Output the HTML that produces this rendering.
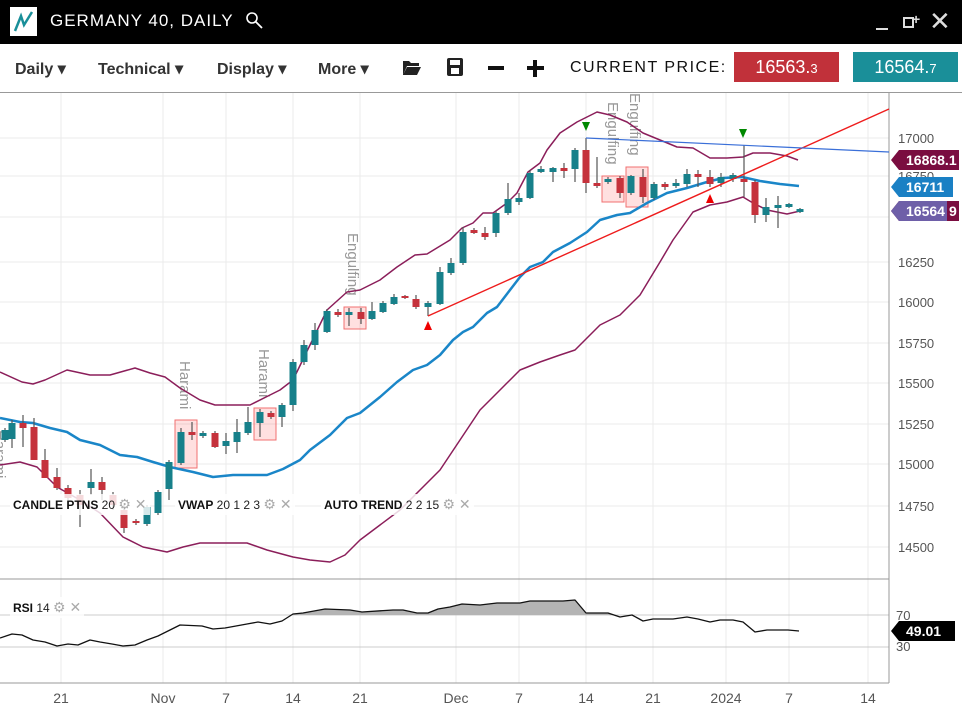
<!DOCTYPE html>
<html><head><meta charset="utf-8"><style>
body{margin:0;width:962px;height:711px;overflow:hidden;background:#fff;font-family:"Liberation Sans",sans-serif;}
#top{position:absolute;left:0;top:0;width:962px;height:44px;background:#000;}
#tb{position:absolute;left:0;top:44px;width:962px;height:48px;background:#fff;border-bottom:1px solid #999;}
.m{position:absolute;top:15px;font-size:16px;font-weight:bold;color:#333;}
.lbl{position:absolute;font-size:12px;color:#222;background:rgba(255,255,255,0.82);padding:2px 3px;white-space:nowrap}
.lbl b{color:#111}
.g{color:#aaa;font-size:14px}
</style></head><body>
<div id="top">
 <div style="position:absolute;left:10px;top:7px;width:27px;height:29px;background:#fff"></div>
 <svg style="position:absolute;left:10px;top:7px" width="27" height="29"><path d="M5 24 L11 9 L14 18 L22 5" stroke="#1a8f99" stroke-width="2.5" fill="none"/></svg>
 <div style="position:absolute;left:50px;top:11px;color:#fff;font-size:17px;letter-spacing:1px">GERMANY 40, DAILY</div>
 <svg style="position:absolute;left:245px;top:11px" width="20" height="20"><circle cx="7" cy="7" r="5" stroke="#fff" stroke-width="1.6" fill="none"/><line x1="11" y1="11" x2="17" y2="17" stroke="#fff" stroke-width="1.8"/></svg>
 <div style="position:absolute;left:876px;top:28px;width:12px;height:2px;background:#ddd"></div>
 <div style="position:absolute;left:903px;top:17px;width:11px;height:11px;border:2px solid #ddd;box-sizing:border-box"></div>
 <div style="position:absolute;left:912px;top:11px;color:#ddd;font-size:14px;font-weight:bold">+</div>
 <div style="position:absolute;left:929px;top:6px;color:#ddd;font-size:26px">✕</div>
</div>
<div id="tb">
 <div class="m" style="left:15px">Daily ▾</div>
 <div class="m" style="left:98px">Technical ▾</div>
 <div class="m" style="left:217px">Display ▾</div>
 <div class="m" style="left:318px">More ▾</div>
 <svg style="position:absolute;left:402px;top:14px" width="20" height="18"><path d="M1 3h6l2 2h8v3H5l-4 9z M5 9h14l-4 8H1z" fill="#222"/></svg>
 <svg style="position:absolute;left:446px;top:13px" width="18" height="20"><rect x="1" y="1" width="16" height="18" rx="2" fill="#222"/><rect x="4" y="3" width="10" height="5" fill="#fff"/><rect x="5" y="11" width="8" height="6" fill="#fff"/></svg>
 <div style="position:absolute;left:488px;top:22px;width:16px;height:4px;background:#111"></div>
 <div style="position:absolute;left:527px;top:22px;width:17px;height:4px;background:#111"></div>
 <div style="position:absolute;left:533px;top:16px;width:4px;height:17px;background:#111"></div>
 <div style="position:absolute;left:570px;top:15px;font-size:16px;color:#111;letter-spacing:1.5px">CURRENT PRICE:</div>
 <div style="position:absolute;left:734px;top:8px;width:105px;height:30px;background:#c1313a;color:#fff;font-size:18px;line-height:30px;text-align:center">16563.<span style="font-size:13px">3</span></div>
 <div style="position:absolute;left:853px;top:8px;width:105px;height:30px;background:#1a8f99;color:#fff;font-size:18px;line-height:30px;text-align:center">16564.<span style="font-size:13px">7</span></div>
</div>
<svg id="c" style="position:absolute;left:0;top:0" width="962" height="711" font-family="Liberation Sans, sans-serif"></svg>
<div class="lbl" style="left:10px;top:494px"><b>CANDLE PTNS</b> 20 <span class="g">⚙ ✕</span></div>
<div class="lbl" style="left:175px;top:494px"><b>VWAP</b> 20 1 2 3 <span class="g">⚙ ✕</span></div>
<div class="lbl" style="left:321px;top:494px"><b>AUTO TREND</b> 2 2 15 <span class="g">⚙ ✕</span></div>
<div class="lbl" style="left:10px;top:597px"><b>RSI</b> 14 <span class="g">⚙ ✕</span></div>
<script>
var s='';
function L(x1,y1,x2,y2,c,w){s+=`<line x1="${x1}" y1="${y1}" x2="${x2}" y2="${y2}" stroke="${c}" stroke-width="${w||1}"/>`;}
function T(x,y,t,c,sz,a){s+=`<text x="${x}" y="${y}" fill="${c}" font-size="${sz||13}" ${a||''}>${t}</text>`;}
// grid
var hy=[138,176,217,262,302,343,383,424,464,506,547];
hy.forEach(y=>L(0,y,889,y,'#ebebeb'));
var vx=[61,163,226,293,360,456,519,586,653,726,789,868];
vx.forEach(x=>{L(x,93,x,683,'#ebebeb');});
L(0,615,889,615,'#ccc');L(0,647,889,647,'#ccc');
L(0,579,889,579,'#999');L(0,683,889,683,'#999');L(889,93,889,683,'#999');
// pattern boxes
[[175,420,22,48],[254,408,22,32],[344,307,22,22],[602,176,22,26],[626,167,22,40]].forEach(b=>s+=`<rect x="${b[0]}" y="${b[1]}" width="${b[2]}" height="${b[3]}" fill="rgba(255,0,0,0.12)" stroke="#f07070" stroke-width="1"/>`);
[[180,361,'Harami'],[259,349,'Harami'],[348,233,'Engulfing'],[608,102,'Engulfing'],[630,93,'Engulfing'],[-5,430,'Harami']].forEach(t=>T(t[0],t[1],t[2],'#999',15,`transform="rotate(90 ${t[0]} ${t[1]})"`));
function P(pts,c,w){s+=`<polyline points="${pts}" fill="none" stroke="${c}" stroke-width="${w}" stroke-linejoin="round"/>`;}
// bands
P('0,372 22,382 33,384 45,380 67,370 90,375 110,375 135,368 150,373 165,377 180,388 200,400 215,405 250,405 270,395 280,390 293,380 327,310 347,292 360,290 380,280 397,267 415,255 427,254 450,240 462,228 473,223 483,213 493,213 507,203 517,193 528,172 540,163 547,150 560,133 577,122 597,112 610,115 627,122 643,133 660,140 677,147 693,148 710,158 727,158 743,157 753,153 770,153 787,156 798,160','#8b1e5a',1.5);
P('0,465 20,462 37,467 57,487 80,500 100,513 123,537 143,547 167,552 183,547 200,543 227,543 247,543 267,550 293,557 310,560 330,562 345,555 360,540 380,525 400,510 420,490 440,470 460,440 480,410 500,390 520,370 540,362 560,355 575,350 590,335 600,325 620,315 640,295 660,262 673,240 693,212 710,205 727,202 743,197 753,203 767,210 787,214 800,211','#8b1e5a',1.5);
P('0,418 20,422 33,423 50,428 67,432 80,440 100,445 120,455 137,457 153,462 170,467 193,472 213,477 233,475 267,475 283,469 300,460 310,450 330,435 347,418 360,413 380,397 397,382 413,370 427,365 440,355 453,340 463,332 473,327 487,313 497,307 510,290 520,277 530,267 543,262 553,252 570,243 587,232 600,220 617,215 630,213 647,203 667,193 687,188 707,182 723,178 742,177 760,181 780,184 799,186','#1a86c8',2.5);
// candles [x,bodyTop,bodyBot,wickTop,wickBot,red?]
var C=[[5,430,440,428,442,0],[12,423,439,420,448,0],[23,423,428,415,447,1],[34,427,460,418,460,1],[45,460,478,449,478,1],[57,477,488,468,490,1],[68,488,498,485,500,1],[80,495,505,490,527,1],[91,482,488,469,495,0],[102,482,490,477,500,1],[113,495,505,492,510,1],[124,510,528,505,533,1],[136,521,523,519,525,1],[147,507,524,505,526,0],[158,492,513,490,515,0],[169,462,489,460,500,0],[181,432,463,428,465,0],[192,432,435,422,440,1],[203,433,436,431,438,0],[215,433,447,431,448,1],[226,441,446,433,454,0],[237,432,442,419,453,0],[248,422,433,407,435,0],[260,412,423,409,437,0],[271,413,417,411,419,1],[282,405,417,403,427,0],[293,362,405,359,411,0],[304,345,362,340,365,0],[315,330,345,323,350,0],[327,311,332,309,333,0],[338,312,315,309,317,1],[349,312,315,308,326,0],[361,312,319,308,324,1],[372,311,319,302,320,0],[383,303,312,301,313,0],[394,297,304,294,305,0],[405,296,298,295,299,1],[416,299,307,295,309,1],[428,303,307,301,316,0],[440,272,304,267,305,0],[451,263,273,258,275,0],[463,232,263,227,265,0],[474,230,233,228,234,1],[485,233,237,227,240,1],[496,213,233,211,237,0],[508,199,213,183,215,0],[519,198,202,193,205,0],[530,173,198,170,199,0],[541,169,172,166,173,0],[553,168,172,167,182,0],[564,168,171,163,178,1],[575,150,169,148,182,0],[586,150,183,138,193,1],[597,183,186,157,188,1],[608,179,182,177,184,0],[620,178,193,176,198,1],[631,176,193,175,195,0],[643,177,197,169,203,1],[654,184,198,182,200,0],[665,184,187,182,190,1],[676,183,186,179,188,0],[687,174,184,169,187,0],[698,174,177,170,187,1],[710,177,184,170,187,1],[721,177,183,173,187,0],[733,175,179,173,182,0],[744,179,182,145,197,1],[755,182,215,180,223,1],[766,207,215,198,222,0],[778,205,208,196,228,0],[789,204,207,203,208,0],[800,209,212,208,213,0]];
C.forEach(c=>{var col=c[5]?'#c5323c':'#17808a';L(c[0],c[3],c[0],c[4],'#555',1.2);s+=`<rect x="${c[0]-3.5}" y="${c[1]}" width="7" height="${Math.max(2,c[2]-c[1])}" fill="${col}"/>`;});
// trend lines
L(428,316,889,109,'#ee1c1c',1.4);L(586,138,889,152,'#3a6fd8',1.2);
s+='<polygon points="424,330 432,330 428,321" fill="#e00"/><polygon points="706,203 714,203 710,194" fill="#e00"/><polygon points="582,122 590,122 586,131" fill="#080"/><polygon points="739,129 747,129 743,138" fill="#080"/>';
// RSI
var r='0,638 12,634 22,635 33,640 45,642 57,646 68,644 78,645 90,640 100,642 112,644 123,646 135,645 147,640 158,636 170,630 180,625 202,626 213,629 225,628 247,624 258,622 270,624 282,621 293,614 303,613 325,609 350,610 362,612 393,610 403,610 417,613 428,613 438,609 450,607 462,604 480,605 497,603 507,603 520,603 530,601 547,601 563,601 575,600 586,613 597,613 608,613 620,617 632,615 643,621 653,619 673,619 687,617 698,619 710,622 720,620 733,620 743,622 755,632 767,630 788,630 799,631';
s+=`<clipPath id="k"><rect x="0" y="579" width="889" height="36"/></clipPath><polygon clip-path="url(#k)" points="0,615 ${r} 799,615" fill="#b4b4b4"/>`;
P(r,'#111',1.3);
// axis labels
[[138,'17000'],[176,'16750'],[262,'16250'],[302,'16000'],[343,'15750'],[383,'15500'],[424,'15250'],[464,'15000'],[506,'14750'],[547,'14500']].forEach(a=>T(898,a[0]+5,a[1],'#555',13));
T(896,620,'70','#555',13);T(896,651,'30','#555',13);
[[61,'21'],[163,'Nov'],[226,'7'],[293,'14'],[360,'21'],[456,'Dec'],[519,'7'],[586,'14'],[653,'21'],[726,'2024'],[789,'7'],[868,'14']].forEach(a=>T(a[0],703,a[1],'#555',14,'text-anchor="middle"'));
// tags
function tag(y,w,col,t){s+=`<path d="M891 ${y} L899 ${y-10} H${891+w} V${y+10} H899 Z" fill="${col}"/>`;T(906,y+5,t,'#fff',14,'font-weight="bold"');}
tag(160,68,'#7a0d40','16868.1');
tag(211,68,'#7a0d40','');
T(949,216,'9','#fff',14,'font-weight="bold"');
tag(187,62,'#1a80c4','16711');
s+=`<path d="M891 211 L899 201 H947 V221 H899 Z" fill="#6e5fa8"/>`;T(906,216,'16564','#fff',14,'font-weight="bold"');
tag(631,64,'#000','49.01');
document.getElementById('c').innerHTML=s;
</script>
</body></html>
